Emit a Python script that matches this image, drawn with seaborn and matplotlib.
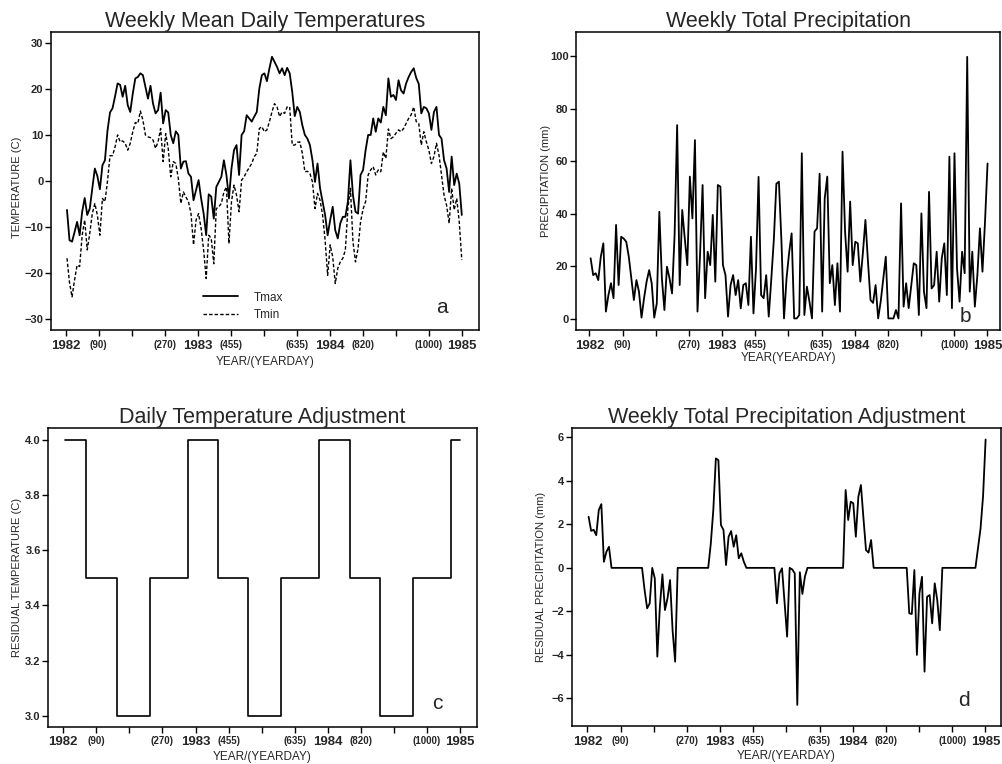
import numpy as np
import seaborn as sns
import matplotlib.pyplot as plt

# weekly records, Jan 1982 - Dec 1984
weeks = np.arange(157)
day = weeks * 7 + 3.5

tmax = [-6.2, -12.8, -13.1, -11.0, -8.8, -11.7, -6.6, -3.6, -7.3, -5.9,
        -1.5, 2.8, 1.2, -1.7, 3.5, 4.6, 11.0, 15.0, 15.9, 18.5,
        21.3, 21.0, 18.4, 20.8, 16.6, 15.1, 19.1, 22.4, 22.7, 23.5,
        23.1, 20.6, 18.0, 20.8, 16.9, 14.8, 15.5, 19.3, 12.6, 15.5,
        15.0, 10.1, 8.3, 10.9, 10.1, 2.8, 4.3, 4.4, 1.7, 1.0,
        -4.1, -1.9, 0.3, -3.7, -7.0, -11.7, -2.8, -3.3, -8.1, -1.2,
        -0.1, 1.0, 4.6, 1.4, -3.7, 2.8, 6.8, 7.9, 1.4, 10.1,
        10.9, 14.4, 13.7, 13.0, 14.1, 15.1, 20.2, 23.1, 23.5, 21.8,
        24.6, 27.1, 26.0, 24.9, 23.5, 24.6, 23.1, 24.7, 23.5, 19.5,
        14.2, 16.2, 15.1, 12.2, 10.1, 9.3, 7.9, 4.6, -0.1, 3.9,
        -1.5, -4.4, -7.3, -11.7, -8.4, -5.5, -10.6, -12.4, -9.1, -7.7,
        -7.7, -4.4, 4.6, -3.0, -6.6, -7.0, 1.4, 2.5, 6.8, 10.1,
        10.1, 13.7, 10.8, 13.7, 12.8, 16.2, 14.4, 22.4, 18.4, 18.8,
        17.7, 22.0, 19.8, 19.1, 21.3, 22.7, 23.8, 24.6, 22.5, 21.2,
        14.8, 16.2, 15.9, 14.8, 11.2, 15.1, 16.2, 10.1, 9.3, 4.6,
        2.8, -2.3, 5.4, -0.8, 1.7, -0.5, -7.3]

tmin = [-16.7, -22.0, -25.1, -21.4, -18.2, -18.5, -11.7, -8.4, -14.9, -11.3,
        -7.0, -4.8, -7.3, -11.7, -3.7, -4.4, 0.0, 5.6, 5.6, 7.5,
        10.1, 8.6, 8.8, 8.3, 6.8, 8.3, 10.8, 12.8, 12.6, 15.3,
        13.3, 10.1, 9.7, 9.5, 9.0, 7.2, 8.6, 11.5, 4.3, 10.4,
        7.2, 1.0, 4.3, 3.9, 0.6, -4.8, -2.3, -3.4, -4.4, -7.0,
        -13.8, -8.4, -7.0, -10.2, -15.0, -21.1, -11.7, -12.4, -17.9, -5.9,
        -5.5, -4.8, -2.3, -1.2, -13.5, -4.4, -0.8, -3.0, -6.6, 0.3,
        1.0, 2.1, 3.0, 3.9, 5.4, 6.1, 11.5, 11.9, 10.8, 11.2,
        13.0, 15.1, 16.9, 16.2, 14.1, 15.1, 14.8, 16.2, 16.2, 7.9,
        7.9, 8.5, 8.6, 6.1, 2.1, 2.2, 1.7, -0.1, -5.9, -2.6,
        -4.1, -7.3, -12.8, -20.4, -13.8, -16.4, -22.2, -18.9, -17.5, -16.7,
        -14.9, -5.9, -1.5, -13.1, -17.5, -14.6, -8.8, -6.0, -4.4, 1.4,
        2.5, 3.2, 1.4, 2.5, 2.1, 6.4, 5.0, 11.4, 9.3, 9.7,
        10.5, 11.2, 10.8, 11.5, 12.6, 13.7, 14.5, 16.2, 13.0, 12.6,
        7.9, 10.8, 8.6, 6.8, 3.9, 5.4, 8.3, 5.7, 1.4, -3.0,
        -5.2, -9.1, -1.5, -6.2, -3.7, -8.8, -17.1]

precip = [23.0, 16.6, 17.3, 14.7, 23.6, 28.7, 2.7, 9.0, 13.5, 7.8,
          35.7, 12.8, 31.2, 30.5, 29.3, 23.6, 15.4, 7.1, 14.7, 10.3,
          0.4, 7.8, 14.1, 18.5, 13.5, 0.4, 5.8, 40.7, 15.4, 3.3,
          19.8, 15.4, 9.6, 31.8, 73.7, 12.8, 41.4, 30.6, 20.4, 54.1,
          38.2, 68.0, 2.7, 24.2, 50.9, 7.8, 25.5, 20.4, 39.5, 14.1,
          50.9, 50.3, 20.4, 16.6, 0.8, 12.8, 16.6, 9.0, 14.7, 3.9,
          12.8, 13.5, 5.2, 31.2, 2.0, 19.1, 54.0, 9.0, 7.8, 16.6,
          0.8, 15.0, 30.0, 51.4, 52.2, 29.3, 0.1, 15.4, 25.0, 32.5,
          0.1, 0.1, 1.4, 63.0, 1.4, 12.2, 6.5, 0.1, 33.2, 34.4,
          55.2, 2.7, 45.8, 54.1, 13.5, 20.4, 5.2, 21.1, 2.7, 63.6,
          33.2, 17.9, 44.6, 20.4, 29.3, 28.7, 14.1, 25.0, 37.6, 21.7,
          7.1, 6.0, 12.8, 0.1, 6.5, 15.0, 23.6, 0.1, 0.1, 0.1,
          3.3, 0.1, 43.9, 4.6, 13.5, 4.0, 12.7, 21.1, 20.4, 1.4,
          40.1, 10.3, 4.0, 48.3, 11.5, 12.8, 25.5, 6.5, 23.0, 28.7,
          9.0, 61.7, 4.0, 63.0, 19.1, 6.5, 25.5, 17.3, 99.7, 10.3,
          25.5, 4.6, 16.6, 34.4, 17.9, 36.9, 59.1]

resid_precip = [2.35, 1.7, 1.75, 1.5, 2.66, 2.93, 0.28, 0.74, 0.97, 0.0,
                0, 0, 0, 0, 0, 0, 0, 0, 0, 0,
                0, 0, -1.02, -1.86, -1.63, 0.0, -0.48, -4.08, -1.79, -0.3,
                -1.94, -1.4, -0.56, -2.87, -4.31, 0.0, 0, 0, 0, 0,
                0, 0, 0, 0, 0, 0, 0, 0, 1.1, 2.66,
                5.03, 4.95, 1.97, 1.74, 0.13, 1.43, 1.69, 0.97, 1.5, 0.44,
                0.67, 0.28, 0, 0, 0, 0, 0, 0, 0, 0,
                0, 0, 0, 0, -1.63, -0.25, -0.02, -1.6, -3.16, 0.0,
                -0.07, -0.25, -6.3, -0.2, -1.2, -0.4, 0, 0, 0, 0,
                0, 0, 0, 0, 0, 0, 0, 0, 0, 0,
                0, 3.58, 2.2, 3.04, 2.97, 1.43, 3.27, 3.81, 2.28, 0.82,
                0.70, 1.28, 0, 0, 0, 0, 0, 0, 0, 0,
                0, 0, 0, 0, 0, 0, -2.09, -2.12, -0.1, -4.0,
                -1.17, -0.41, -4.77, -1.33, -1.25, -2.55, -0.71, -1.48, -2.86, 0.0,
                0, 0, 0, 0, 0, 0, 0, 0, 0, 0,
                0, 0, 0, 0.9, 1.8, 3.3, 5.9]

# seasonal temperature adjustment (value, number of weeks)
season_values = [4.0, 3.5, 3.0, 3.5, 4.0, 3.5, 3.0, 3.5, 4.0, 3.5, 3.0, 3.5, 4.0]
season_weeks = [9, 12, 13, 15, 12, 12, 13, 15, 12, 12, 13, 15, 4]
resid_temp = np.repeat(season_values, season_weeks)

tick_days = np.arange(13) * 91.25
tick_labels = ['1982', '(90)', '', '(270)', '1983', '(455)', '', '(635)',
               '1984', '(820)', '', '(1000)', '1985']

sns.set_theme(style='ticks')
plt.rcParams['font.family'] = ['Liberation Sans', 'DejaVu Sans']

fig = plt.figure(figsize=(10.02, 7.64), dpi=100)
ax_a = fig.add_axes([0.0509, 0.5681, 0.4271, 0.3901])
ax_b = fig.add_axes([0.5749, 0.5681, 0.4232, 0.3901])
ax_c = fig.add_axes([0.0482, 0.0488, 0.4275, 0.3906])
ax_d = fig.add_axes([0.5706, 0.0497, 0.4281, 0.3904])


def style(ax, xlim, ylim, yticks, ylabel, xlabel, title, letter, letter_xy,
          ylab_xy, xlab_y):
    ax.set_xlim(xlim)
    ax.set_ylim(ylim)
    ax.set_xticks(tick_days)
    labs = ax.set_xticklabels(tick_labels)
    for lab, txt in zip(labs, tick_labels):
        lab.set_fontsize(9.5 if txt.isdigit() else 7)
        lab.set_fontweight('bold')
    ax.set_yticks(yticks)
    for lab in ax.get_yticklabels():
        lab.set_fontsize(8)
        lab.set_fontweight('bold')
    ax.tick_params(direction='out', length=4, width=1, color='black')
    ax.tick_params(axis='x', pad=3)
    ax.tick_params(axis='y', pad=1.5)
    for sp in ax.spines.values():
        sp.set_visible(True)
        sp.set_color('black')
        sp.set_linewidth(1.1)
    ax.set_ylabel(ylabel, fontsize=8)
    ax.set_xlabel(xlabel, fontsize=8.5)
    ax.yaxis.set_label_coords(*ylab_xy)
    ax.xaxis.set_label_coords(0.5, xlab_y)
    ax.set_title(title, fontsize=15.5, pad=2.5)
    ax.text(letter_xy[0], letter_xy[1], letter, transform=ax.transAxes,
            fontsize=15, ha='center', va='center')


# a: temperatures
sns.lineplot(x=day, y=tmax, ax=ax_a, color='black', lw=1.3, label='Tmax')
sns.lineplot(x=day, y=tmin, ax=ax_a, color='black', lw=1.0,
             linestyle=(0, (2.5, 1.5)), label='Tmin')
ax_a.legend(loc='lower left', bbox_to_anchor=(0.33, -0.005), frameon=False,
            handlelength=3, handletextpad=1.3, fontsize=8.5, labelspacing=0.45)
style(ax_a, (-40.7, 1143), (-32.3, 32.5), [-30, -20, -10, 0, 10, 20, 30],
      'TEMPERATURE (C)', 'YEAR/(YEARDAY)', 'Weekly Mean Daily Temperatures',
      'a', (0.914, 0.077), (-0.068, 0.48), -0.087)

# b: precipitation
sns.lineplot(x=day, y=precip, ax=ax_b, color='black', lw=1.3)
style(ax_b, (-36.6, 1130), (-4.3, 109.2), [0, 20, 40, 60, 80, 100],
      'PRECIPITATION (mm)', 'YEAR(YEARDAY)', 'Weekly Total Precipitation',
      'b', (0.919, 0.045), (-0.06, 0.5), -0.075)

# c: temperature adjustment
sns.lineplot(x=day, y=resid_temp, ax=ax_c, color='black', lw=1.2,
             drawstyle='steps-mid')
style(ax_c, (-41.4, 1141), (2.96, 4.042), [3.0, 3.2, 3.4, 3.6, 3.8, 4.0],
      'RESIDUAL TEMPERATURE (C)', 'YEAR/(YEARDAY)',
      'Daily Temperature Adjustment', 'c', (0.907, 0.078), (-0.062, 0.5), -0.08)
ax_c.set_yticklabels(['3.0', '3.2', '3.4', '3.6', '3.8', '4.0'],
                     fontsize=8, fontweight='bold')

# d: precipitation adjustment
sns.lineplot(x=day, y=resid_precip, ax=ax_d, color='black', lw=1.3)
style(ax_d, (-42.9, 1137), (-7.27, 6.44), [-6, -4, -2, 0, 2, 4, 6],
      'RESIDUAL PRECIPITATION (mm)', 'YEAR/(YEARDAY)',
      'Weekly Total Precipitation Adjustment', 'd', (0.914, 0.087),
      (-0.06, 0.5), -0.08)

fig.savefig('out.png', dpi=100)
